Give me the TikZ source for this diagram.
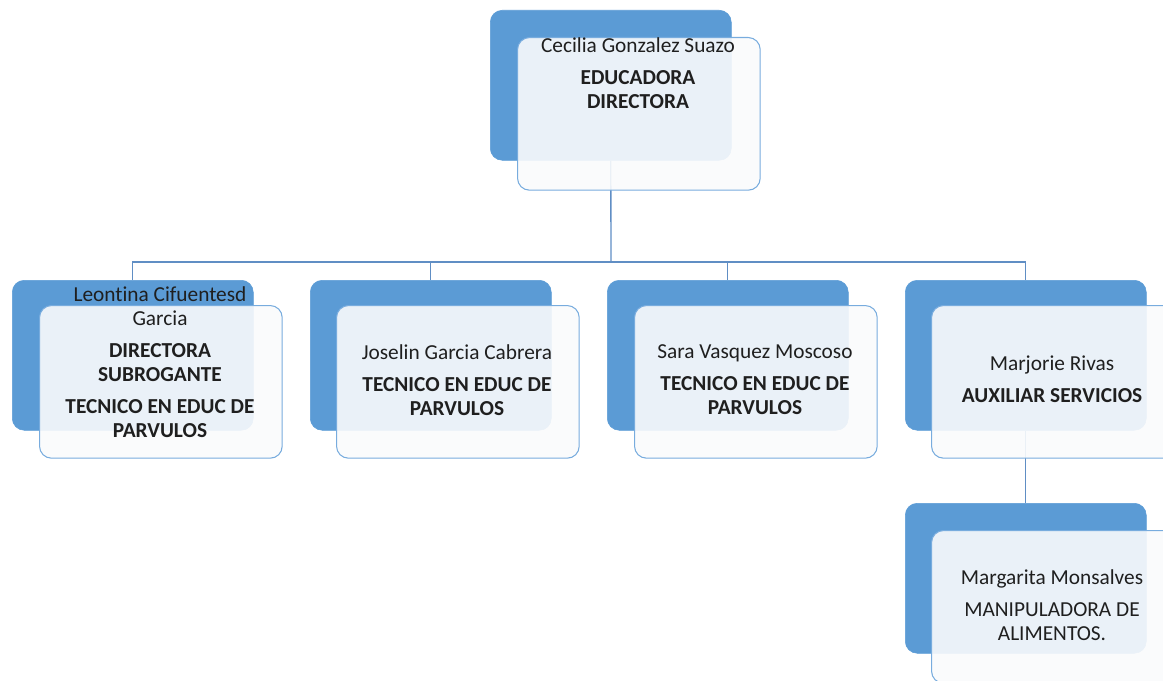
\documentclass[tikz,border=0pt]{standalone}
\usepackage{fontspec}
\setmainfont[Ligatures=NoCommon]{Carlito}
\usetikzlibrary{positioning}
\definecolor{boxblue}{RGB}{91,155,213}
\definecolor{edgeblue}{RGB}{120,172,222}
\definecolor{linkblue}{RGB}{96,142,196}
\definecolor{paper}{RGB}{250,251,252}

\begin{document}
\begin{tikzpicture}[x=0.75pt, y=-0.75pt]
	\tikzset{
		back/.style = {rectangle, rounded corners=9pt, fill=boxblue, draw=boxblue, inner sep=0pt,
			minimum width=180.75pt, minimum height=112.5pt, anchor=north west},
		front/.style = {rectangle, rounded corners=9pt, fill=paper, fill opacity=0.9, draw=edgeblue,
			line width=0.8pt, inner sep=0pt, minimum width=182pt, minimum height=114.5pt, anchor=north west},
		words/.style = {align=center, font=\fontsize{16}{18}\selectfont, text=black!88, inner sep=0pt},
		link/.style = {draw=linkblue, line width=1pt}
	}
	\useasboundingbox (0, 0) rectangle (1163, 681);
	% blue back cards
	\node[back] (top) at (490, 10) {};
	\node[back] (leontina) at (12, 280) {};
	\node[back] (joselin) at (310, 280) {};
	\node[back] (sara) at (607, 280) {};
	\node[back] (marjorie) at (905, 280) {};
	\node[back] (margarita) at (905, 503) {};
	% connectors
	\coordinate (bus) at (611, 262);
	\draw[link] (top.south) -- (bus);
	\draw[link] (bus) -| (leontina.north);
	\draw[link] (bus) -| (joselin.north);
	\draw[link] (bus) -| (sara.north);
	\draw[link] (bus) -| (marjorie.north);
	\draw[link] (marjorie.south) -- (margarita.north);
	% light front cards
	\node[front] (ftop) at (517, 37) {};
	\node[front] (fleontina) at (39, 305) {};
	\node[front] (fjoselin) at (336, 305) {};
	\node[front] (fsara) at (634, 305) {};
	\node[front] (fmarjorie) at (931, 305) {};
	\node[front] (fmargarita) at (931, 530) {};
	% texts
	\node[words] (ttop) at (638, 73) {Cecilia Gonzalez Suazo\\[6pt]\textbf{EDUCADORA}\\\textbf{DIRECTORA}};
	\node[words] (tleontina) at (160, 362) {Leontina Cifuentesd\\Garcia\\[6pt]\textbf{DIRECTORA}\\\textbf{SUBROGANTE}\\[6pt]\textbf{TECNICO EN EDUC DE}\\\textbf{PARVULOS}};
	\node[words] (tjoselin) at (457, 380) {Joselin Garcia Cabrera\\[6pt]\textbf{TECNICO EN EDUC DE}\\\textbf{PARVULOS}};
	\node[words] (tsara) at (755, 380) {Sara Vasquez Moscoso\\[6pt]\textbf{TECNICO EN EDUC DE}\\\textbf{PARVULOS}};
	\node[words] (tmarjorie) at (1052, 379) {Marjorie Rivas\\[6pt]\textbf{AUXILIAR SERVICIOS}};
	\node[words] (tmargarita) at (1052, 605) {Margarita Monsalves\\[6pt]MANIPULADORA DE\\ALIMENTOS.};
\end{tikzpicture}
\end{document}
